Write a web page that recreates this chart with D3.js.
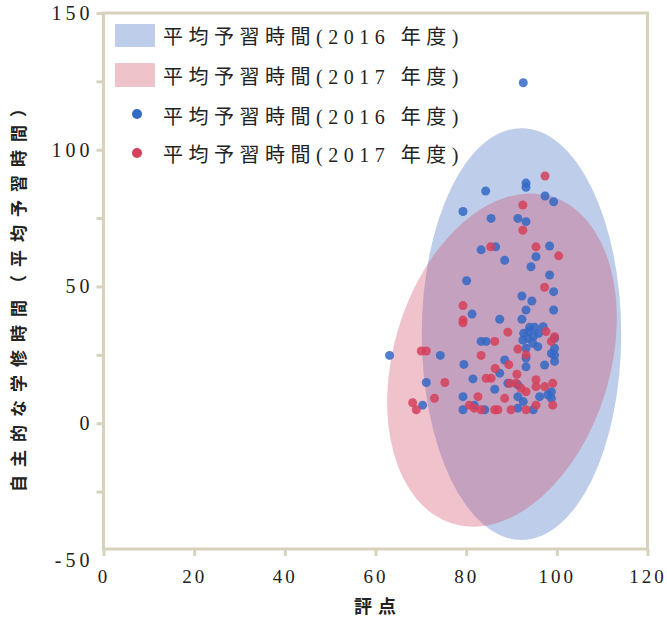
<!DOCTYPE html>
<html lang="ja">
<head>
<meta charset="UTF-8">
<title>評点と自主的な学修時間</title>
<script src="https://d3js.org/d3.v7.min.js"></script>
<style>
    body { margin: 0; background: #fff; }
    .tick text { font-family: "Liberation Serif", "DejaVu Serif", serif; font-size: 20px; letter-spacing: 4px; fill: #222; }
    .x-axis .tick text { font-size: 19px; letter-spacing: 3px; }
    .legend text { font-family: "Liberation Serif", "Noto Sans CJK JP", serif; font-size: 20px; letter-spacing: 5.5px; fill: #222; }
    .title { font-family: "Noto Sans CJK JP", sans-serif; font-weight: bold; fill: #222; }
</style>
</head>
<body>
<div id="chart"></div>
<script>
// ticks
const xTicks = [0, 20, 40, 60, 80, 100, 120];
const yTicks = [-50, -25, 0, 25, 50, 75, 100, 125, 150];

// 2016 points [評点, 平均予習時間]
const points2016 = [
    [92.6, 124.5], [93.2, 87.8], [93.2, 86.3], [84.3, 84.9], [79.3, 77.4], [97.4, 83.1],
    [99.3, 81.0], [85.5, 74.9], [91.4, 74.9], [93.2, 73.7], [83.3, 63.4], [86.5, 64.5],
    [88.5, 59.6], [95.4, 60.9], [94.3, 57.2], [98.4, 64.8], [98.4, 54.2], [80.1, 52.1],
    [99.3, 48.1], [92.3, 46.5], [94.5, 44.7], [93.2, 41.4], [99.3, 41.4], [81.3, 39.9],
    [87.4, 38.0], [92.3, 38.0], [94.0, 35.1], [95.1, 35.1], [97.0, 35.3], [92.7, 32.9],
    [93.8, 33.5], [94.9, 31.9], [96.0, 32.9], [92.5, 30.4], [93.6, 31.0], [94.7, 29.2],
    [83.3, 29.9], [84.4, 29.9], [99.5, 31.0], [95.8, 28.0], [93.2, 27.4], [99.5, 27.4],
    [98.8, 25.5], [99.5, 24.9], [99.5, 22.6], [63.1, 24.8], [74.3, 24.8], [79.5, 21.5],
    [88.5, 23.1], [93.2, 23.8], [93.2, 20.6], [97.3, 21.3], [71.2, 14.9], [70.4, 6.6],
    [81.5, 16.2], [87.4, 18.3], [89.2, 14.6], [86.3, 12.4], [91.4, 14.0], [91.4, 9.7],
    [96.2, 9.7], [98.0, 10.4], [98.8, 11.5], [98.8, 9.1], [79.3, 9.7], [79.3, 4.9],
    [84.1, 4.9], [91.4, 5.5], [92.6, 7.9], [94.8, 4.9], [81.8, 6.6]
];

// 2017 points
const points2017 = [
    [97.4, 90.4], [92.5, 79.8], [92.5, 70.6], [85.4, 64.5], [95.4, 64.5], [100.4, 61.2],
    [97.3, 49.7], [79.3, 43.0], [79.3, 37.7], [79.3, 36.7], [89.2, 33.3], [86.3, 29.9],
    [97.6, 33.5], [99.5, 31.6], [98.8, 29.9], [91.4, 27.1], [70.1, 26.4], [71.2, 26.4],
    [83.3, 24.8], [93.2, 25.0], [86.4, 20.0], [89.4, 21.4], [75.3, 14.9], [84.4, 16.4],
    [85.5, 16.4], [91.2, 17.9], [89.6, 14.6], [91.0, 14.6], [92.1, 12.8], [93.2, 11.5],
    [95.4, 15.9], [95.4, 13.4], [97.3, 13.4], [99.1, 14.6], [73.0, 9.1], [82.6, 9.7],
    [88.5, 9.1], [95.4, 6.6], [99.1, 6.6], [80.7, 6.6], [81.8, 5.5], [86.3, 4.9],
    [87.0, 4.9], [89.9, 4.9], [93.2, 4.9], [68.2, 7.5], [69.0, 4.9], [83.3, 4.9]
];

// density ellipses: centre, half-widths (data units), tilt in degrees
const ellipse2016 = { cx: 92.2, cy: 32.6, hx: 22.0, hy: 75.3, angle: 0 };
const ellipse2017 = { cx: 87.9, cy: 23.1, hx: 23.9, hy: 62.5, angle: 16.7 };

const legendLabels = [
    "平均予習時間(2016 年度)",
    "平均予習時間(2017 年度)",
    "平均予習時間(2016 年度)",
    "平均予習時間(2017 年度)"
];

const width = 667, height = 619;
const plotLeft = 103.5, plotRight = 647.5, plotTop = 13, plotBottom = 549;
const axisColor = "#d7d2bc";
const blue = "#3469c4", red = "#d6405a";

const svg = d3.select("#chart").append("svg")
    .attr("width", width)
    .attr("height", height);

const x = d3.scaleLinear().domain([0, 120]).range([plotLeft, plotRight]);
const y = d3.scaleLinear().domain([-46, 150]).range([plotBottom, plotTop]);

// ellipses
function drawEllipse(e, fill, opacity) {
    svg.append("ellipse")
        .attr("cx", x(e.cx))
        .attr("cy", y(e.cy))
        .attr("rx", x(e.cx + e.hx) - x(e.cx))
        .attr("ry", y(e.cy) - y(e.cy + e.hy))
        .attr("transform", `rotate(${e.angle},${x(e.cx)},${y(e.cy)})`)
        .attr("fill", fill)
        .attr("fill-opacity", opacity);
}
drawEllipse(ellipse2016, "#bdcdea", 1);
drawEllipse(ellipse2017, "#d2506e", 0.35);

// points
svg.append("g").selectAll("circle")
    .data(points2016)
    .join("circle")
    .attr("cx", d => x(d[0]))
    .attr("cy", d => y(d[1]))
    .attr("r", 4.5)
    .attr("fill", blue)
    .attr("fill-opacity", 0.85);

svg.append("g").selectAll("circle")
    .data(points2017)
    .join("circle")
    .attr("cx", d => x(d[0]))
    .attr("cy", d => y(d[1]))
    .attr("r", 4.5)
    .attr("fill", red)
    .attr("fill-opacity", 0.85);

// frame
svg.append("rect")
    .attr("x", plotLeft).attr("y", plotTop)
    .attr("width", plotRight - plotLeft).attr("height", plotBottom - plotTop)
    .attr("fill", "none")
    .attr("stroke", axisColor)
    .attr("stroke-width", 3);

// axes
const yAxis = svg.append("g")
    .attr("transform", `translate(${plotLeft},0)`)
    .call(d3.axisLeft(y).tickValues(yTicks).tickSize(7).tickSizeOuter(0)
        .tickFormat(d => d % 50 === 0 ? d : ""));
yAxis.select(".domain").remove();
yAxis.selectAll(".tick line").attr("stroke", axisColor).attr("stroke-width", 3);
yAxis.selectAll(".tick").filter(d => d < -46).select("line").remove();

const xAxis = svg.append("g")
    .attr("class", "x-axis")
    .attr("transform", `translate(0,${plotBottom})`)
    .call(d3.axisBottom(x).tickValues(xTicks).tickSize(7).tickPadding(14).tickSizeOuter(0));
xAxis.select(".domain").remove();
xAxis.selectAll(".tick line").attr("stroke", axisColor).attr("stroke-width", 3);
xAxis.selectAll(".tick text").attr("dx", 0);

// axis titles
svg.append("text")
    .attr("class", "title")
    .attr("transform", "translate(19,296) rotate(-90)")
    .attr("text-anchor", "middle")
    .attr("dy", "0.35em")
    .attr("dx", 4)
    .style("font-size", "17px")
    .style("letter-spacing", "8px")
    .text("自主的な学修時間（平均予習時間）");

svg.append("text")
    .attr("class", "title")
    .attr("x", 375)
    .attr("y", 607)
    .attr("text-anchor", "middle")
    .attr("dy", "0.35em")
    .attr("dx", 3)
    .style("font-size", "18px")
    .style("letter-spacing", "6px")
    .text("評点");

// legend
const legend = svg.append("g").attr("class", "legend");
const rowY = [37, 77, 117, 155];

legend.append("rect").attr("x", 115).attr("y", 24).attr("width", 40).attr("height", 23).attr("fill", "#bdcdea");
legend.append("rect").attr("x", 115).attr("y", 63).attr("width", 40).attr("height", 24).attr("fill", "#eec4ca");
legend.append("circle").attr("cx", 137).attr("cy", 114).attr("r", 5).attr("fill", blue);
legend.append("circle").attr("cx", 137).attr("cy", 153).attr("r", 5).attr("fill", red);

legend.selectAll("text")
    .data(legendLabels)
    .join("text")
    .attr("x", 163)
    .attr("y", (d, i) => rowY[i])
    .attr("dy", "0.36em")
    .text(d => d);
</script>
</body>
</html>
